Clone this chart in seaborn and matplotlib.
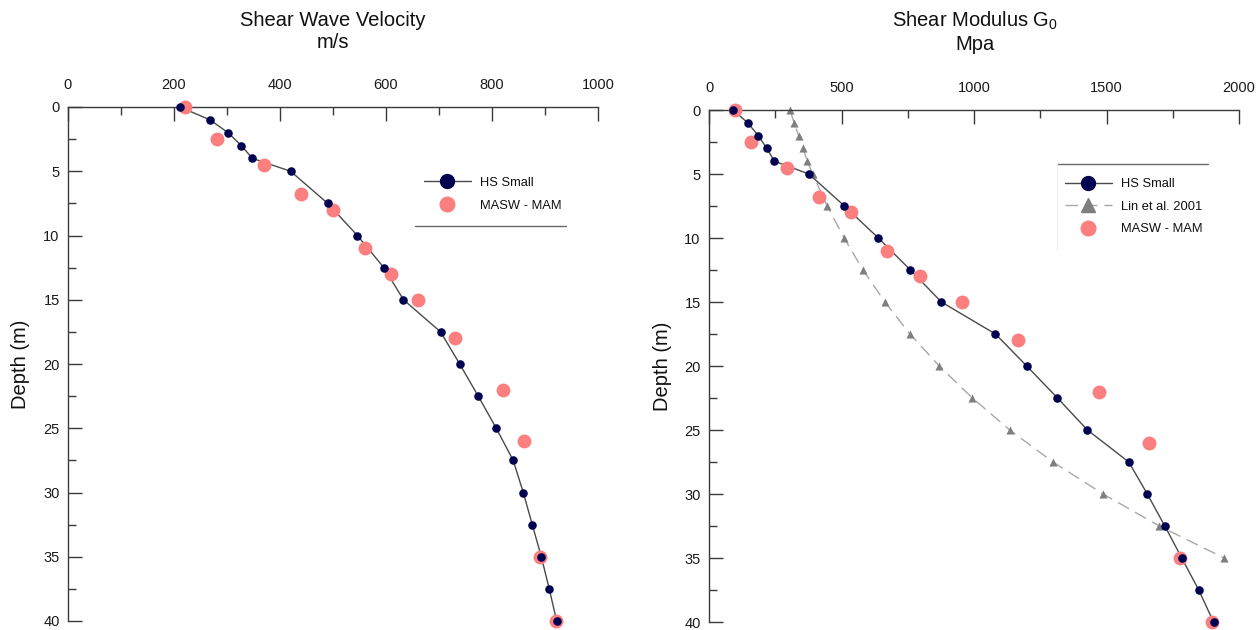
import matplotlib
matplotlib.use("Agg")
import matplotlib.pyplot as plt
from matplotlib.lines import Line2D
from matplotlib.ticker import MultipleLocator
import numpy as np
import pandas as pd
import seaborn as sns

# --- data -------------------------------------------------------------------
# HS Small model profile (depth in m)
hs_depth = [0, 1, 2, 3, 4, 5, 7.5, 10, 12.5, 15, 17.5, 20, 22.5, 25, 27.5,
            30, 32.5, 35, 37.5, 40]
hs_vs = [211, 268, 302, 327, 348, 420, 490, 546, 596, 633, 703, 739, 774,
         808, 840, 859, 876, 893, 908, 922]
hs_g0 = [91, 146, 186, 218, 247, 377, 511, 639, 760, 877, 1081, 1199, 1315,
         1428, 1584, 1654, 1720, 1784, 1848, 1904]

# MASW - MAM field measurements
masw_depth = [0, 2.5, 4.5, 6.8, 8, 11, 13, 15, 18, 22, 26, 35, 40]
masw_vs = [220, 281, 370, 440, 500, 560, 610, 661, 730, 820, 861, 891, 920]
masw_g0 = [97, 158, 294, 414, 534, 671, 795, 953, 1167, 1473, 1659, 1776, 1898]

# Lin et al. 2001 correlation
lin_depth = [0, 1, 2, 3, 4, 5, 7.5, 10, 12.5, 15, 17.5, 20, 22.5, 25, 27.5,
             30, 32.5, 35]
lin_g0 = [306, 321, 338, 355, 371, 391, 446, 510, 581, 664, 758, 869, 994,
          1135, 1298, 1487, 1699, 1944]

# --- style ------------------------------------------------------------------
sns.set_theme(style="white")
plt.rcParams["font.family"] = ["Liberation Sans", "DejaVu Sans"]
plt.rcParams["mathtext.default"] = "regular"

NAVY = "#000050"
SALMON = "#fb7f7f"
LINE_GREY = "#4a4a4a"
LIN_LINE = "#a8a8a8"
LIN_MARK = "#7f7f7f"
AXIS_GREY = "#3a3a3a"
LIN_DASH = (0, (9, 5))

hs = pd.DataFrame({"depth": hs_depth, "vs": hs_vs, "g0": hs_g0})
masw = pd.DataFrame({"depth": masw_depth, "vs": masw_vs, "g0": masw_g0})
lin = pd.DataFrame({"depth": lin_depth, "g0": lin_g0})

W, H = 1260, 630
fig = plt.figure(figsize=(W / 100, H / 100), dpi=100)
ax1 = fig.add_axes([68 / W, 1 - 621 / H, 530 / W, 514 / H])
ax2 = fig.add_axes([709 / W, 1 - 622 / H, 530 / W, 512 / H])


def style_axis(ax, xmax, xmajor, xminor):
    ax.set_xlim(0, xmax)
    ax.set_ylim(40, 0)
    ax.xaxis.tick_top()
    ax.xaxis.set_major_locator(MultipleLocator(xmajor))
    ax.xaxis.set_minor_locator(MultipleLocator(xminor))
    ax.yaxis.set_major_locator(MultipleLocator(5))
    ax.yaxis.set_minor_locator(MultipleLocator(2.5))
    for side in ("right", "bottom"):
        ax.spines[side].set_visible(False)
    for side in ("top", "left"):
        ax.spines[side].set_color(AXIS_GREY)
        ax.spines[side].set_linewidth(1.0)
    ax.tick_params(which="major", direction="in", length=10, width=1.0,
                   color=AXIS_GREY, labelsize=10.5, labelcolor="#1a1a1a")
    ax.tick_params(which="minor", direction="in", length=5.5, width=1.0,
                   color=AXIS_GREY)
    ax.tick_params(axis="x", which="both", top=True, bottom=False,
                   labeltop=True, labelbottom=False, pad=11)
    ax.tick_params(axis="y", which="both", left=True, right=False, pad=6)
    ax.set_xlabel("")
    ax.set_ylabel("Depth (m)", fontsize=14.5, va="center", color="#111111")
    ax.yaxis.set_label_coords(-0.09, 0.5)


# --- left: shear wave velocity ---------------------------------------------
sns.lineplot(data=hs, x="vs", y="depth", sort=False, orient="y", ax=ax1,
             color=LINE_GREY, linewidth=1.0, zorder=2)
sns.scatterplot(data=masw, x="vs", y="depth", ax=ax1, color=SALMON, s=100,
                linewidth=0, zorder=3, clip_on=False)
sns.scatterplot(data=hs, x="vs", y="depth", ax=ax1, color=NAVY, s=38,
                linewidth=0, zorder=4, clip_on=False)
style_axis(ax1, 1000, 200, 100)

# --- right: shear modulus ---------------------------------------------------
sns.lineplot(data=lin, x="g0", y="depth", sort=False, orient="y", ax=ax2,
             color=LIN_LINE, linewidth=1.0, linestyle=LIN_DASH, zorder=1)
sns.scatterplot(data=lin, x="g0", y="depth", ax=ax2, color=LIN_MARK,
                marker="^", s=34, linewidth=0, zorder=2, clip_on=False)
sns.lineplot(data=hs, x="g0", y="depth", sort=False, orient="y", ax=ax2,
             color=LINE_GREY, linewidth=1.0, zorder=2)
sns.scatterplot(data=masw, x="g0", y="depth", ax=ax2, color=SALMON, s=100,
                linewidth=0, zorder=3, clip_on=False)
sns.scatterplot(data=hs, x="g0", y="depth", ax=ax2, color=NAVY, s=38,
                linewidth=0, zorder=4, clip_on=False)
style_axis(ax2, 2000, 500, 250)
ax2.yaxis.set_label_coords(-0.0885, 0.5)

# --- titles -----------------------------------------------------------------
fig.text(333 / W, 1 - 32 / H, "Shear Wave Velocity\nm/s", ha="center",
         va="center", fontsize=14.5, linespacing=1.2, color="#111111")
fig.text(975 / W, 1 - 32 / H, "Shear Modulus G$_0$\nMpa", ha="center",
         va="center", fontsize=14.5, linespacing=1.2, color="#111111")

# --- legends ----------------------------------------------------------------
h_hs = Line2D([], [], color=LINE_GREY, lw=1.0, marker="o", markersize=10,
              markerfacecolor=NAVY, markeredgecolor=NAVY)
h_masw = Line2D([], [], color="none", lw=0, marker="o", markersize=10.5,
                markerfacecolor=SALMON, markeredgecolor=SALMON)
h_lin = Line2D([], [], color=LIN_LINE, lw=1.0, linestyle=LIN_DASH,
               marker="^", markersize=10, markerfacecolor=LIN_MARK,
               markeredgecolor=LIN_MARK)

leg_kw = dict(frameon=False, loc="upper left", borderaxespad=0, borderpad=0,
              handlelength=3.6, handletextpad=0.7, labelspacing=0.82,
              fontsize=9.3)
leg1 = ax1.legend([h_hs, h_masw], ["HS Small", "MASW - MAM"],
                  bbox_to_anchor=(0.672, 0.864), **leg_kw)
leg2 = ax2.legend([h_hs, h_lin, h_masw],
                  ["HS Small", "Lin et al. 2001", "MASW - MAM"],
                  bbox_to_anchor=(0.672, 0.867), **leg_kw)
for leg in (leg1, leg2):
    for t in leg.get_texts():
        t.set_color("#111111")

# rule lines framing the legend blocks
ax1.add_line(Line2D([0.655, 0.94], [0.768, 0.768], transform=ax1.transAxes,
                    color="#6a6a6a", lw=1.0, clip_on=False))
ax2.add_line(Line2D([0.657, 0.9415], [0.8945, 0.8945],
                    transform=ax2.transAxes, color="#6a6a6a", lw=1.0,
                    clip_on=False))
ax2.add_line(Line2D([0.657, 0.657], [0.8945, 0.727], transform=ax2.transAxes,
                    color="#f0f0f0", lw=1.0, clip_on=False))

fig.savefig("out.png", dpi=100, facecolor="white")
